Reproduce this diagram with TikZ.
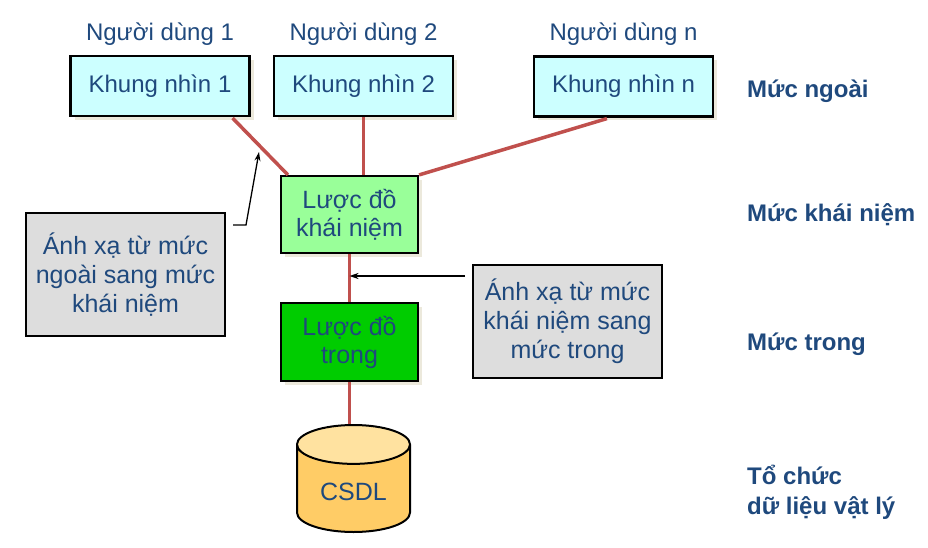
\documentclass[tikz,border=0pt]{standalone}
\usepackage{fontspec}
\setmainfont{Liberation Sans}
\usetikzlibrary{positioning, shapes.geometric, shadows, arrows.meta}
\definecolor{chuxanh}{RGB}{31,73,125}
\definecolor{nenlam}{RGB}{204,255,255}
\definecolor{xanhnhat}{RGB}{153,255,153}
\definecolor{xanhdam}{RGB}{0,204,0}
\definecolor{nenxam}{RGB}{221,221,221}
\definecolor{thando}{RGB}{255,204,102}
\definecolor{napdo}{RGB}{255,226,160}
\definecolor{duongdo}{RGB}{192,80,77}
\definecolor{bongnen}{RGB}{236,233,220}
\tikzset{
    khungnode/.style={
        rectangle,
        draw=black,
        fill=nenlam, % nền xanh lam nhạt
        line width=2.2pt,
        minimum width=179pt,
        minimum height=60pt,
        text=chuxanh,
        font=\fontsize{24}{28}\selectfont,
        drop shadow={shadow xshift=4pt, shadow yshift=-4pt, fill=bongnen, opacity=1}
    },
    luocdonode/.style={
        rectangle,
        draw=black,
        line width=2.2pt,
        minimum width=137pt,
        minimum height=77pt,
        align=center,
        text=chuxanh,
        font=\fontsize{25}{28}\selectfont,
        drop shadow={shadow xshift=4pt, shadow yshift=-4pt, fill=bongnen, opacity=1}
    },
    anhxanode/.style={
        rectangle,
        draw=black,
        fill=nenxam,
        line width=2pt,
        align=center,
        text=chuxanh,
        font=\fontsize{25}{29}\selectfont
    },
    csdlnode/.style={
        cylinder,
        shape border rotate=90,
        aspect=0.53,
        anchor=shape center,
        minimum width=113pt,
        minimum height=107pt,
        draw=black,
        line width=2pt,
        cylinder uses custom fill,
        cylinder body fill=thando, % thân màu cam
        cylinder end fill=napdo,
        text=chuxanh,
        font=\fontsize{25}{28}\selectfont
    },
    mucnode/.style={
        anchor=west,
        align=left,
        inner sep=0,
        text=chuxanh,
        font=\bfseries\fontsize{24}{30}\selectfont
    },
    nguoinode/.style={
        text=chuxanh,
        font=\fontsize{24}{28}\selectfont
    },
    noido/.style={duongdo, line width=3.5pt},
    muiten/.style={black, line width=1.3pt, -{Stealth[length=9pt,width=6pt]}}
}
\begin{document}
\begin{tikzpicture}[x=1pt, y=-1pt]
    \useasboundingbox (0,0) rectangle (928,548);
    % mức ngoài
    \node[khungnode] (k1) at (160,86) {Khung nhìn 1};
    \node[khungnode] (k2) at (363.5,86) {Khung nhìn 2};
    \node[khungnode] (kn) at (623.5,86.5) {Khung nhìn n};
    \node[nguoinode, above=6pt of k1] (u1) {Người dùng 1};
    \node[nguoinode, above=6pt of k2] (u2) {Người dùng 2};
    \node[nguoinode, above=6pt of kn] (un) {Người dùng n};
    % các lược đồ
    \node[luocdonode, fill=xanhnhat] (lkn) at (349.5,214.5) {Lược đồ\\khái niệm};
    \node[luocdonode, fill=xanhdam, minimum height=78pt] (ltr) at (349.5,342) {Lược đồ\\trong};
    % cơ sở dữ liệu
    \node[csdlnode] (csdl) at (353.5,478.5) {CSDL};
    % ánh xạ
    \node[anhxanode, minimum width=199pt, minimum height=123pt] (ax1) at (125.5,274.5)
        {Ánh xạ từ mức\\ngoài sang mức\\khái niệm};
    \node[anhxanode, minimum width=189pt, minimum height=113pt] (ax2) at (567.5,321.5)
        {Ánh xạ từ mức\\khái niệm sang\\mức trong};
    % các mức
    \node[mucnode] (m1) at (747,91) {Mức ngoài};
    \node[mucnode] (m2) at (747,215) {Mức khái niệm};
    \node[mucnode] (m3) at (747,344) {Mức trong};
    \node[mucnode] (m4) at (747,492) {Tổ chức\\dữ liệu vật lý};
    % đường nối đỏ
    \draw[noido] ([xshift=-18pt, yshift=-1pt]k1.south east) -- ([xshift=8pt]lkn.north west);
    \draw[noido] (k2.south) -- (k2.south |- lkn.north);
    \draw[noido] ([xshift=74pt, yshift=-1pt]kn.south west) -- (lkn.north east);
    \draw[noido] (lkn.south) -- (ltr.north);
    \draw[noido] (ltr.south) -- (ltr.south |- csdl.north);
    % mũi tên chú thích
    \coordinate (g1) at (233,225);
    \coordinate (t1) at (259,152);
    \draw[muiten] (g1) -- (246,225) -- (t1);
    \coordinate (g2) at (465,276);
    \draw[muiten] (g2) -- (g2 -| lkn.south);
\end{tikzpicture}
\end{document}
